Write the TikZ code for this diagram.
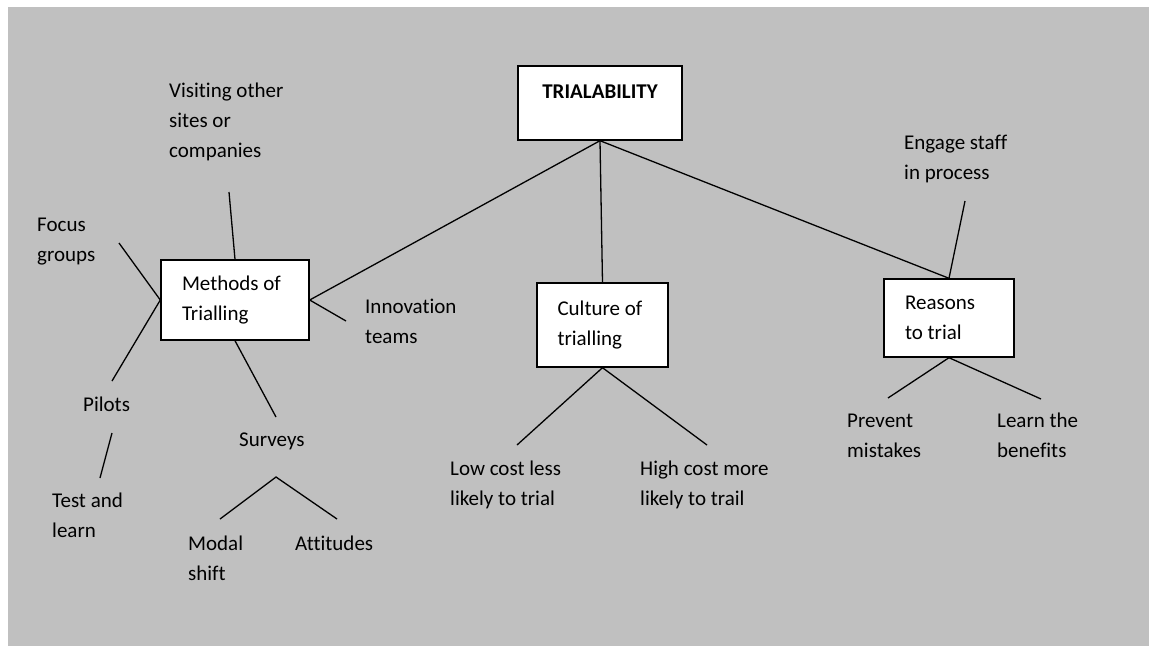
\documentclass[tikz,border=0pt]{standalone}
\usepackage{fontspec}
\setmainfont{Carlito}[RawFeature={-liga;-clig;-calt;-dlig}]
\usepackage{tikz}
\usetikzlibrary{positioning,backgrounds}
\pgfdeclarelayer{background}
\pgfsetlayers{background,main}
\usepackage{xcolor}
\definecolor{sheetgray}{RGB}{192,192,192}
\newcommand{\mapfont}{\fontsize{21}{30}\selectfont}

\begin{document}
\begin{tikzpicture}[x=1pt,y=-1pt,
  every node/.style={font=\mapfont},
  box/.style={draw=black, fill=white, line width=1.4pt,
    align=flush left, inner sep=0pt},
  txt/.style={anchor=base west, align=left, inner sep=0pt},
  conn/.style={line width=1.3pt},
]
\useasboundingbox (0,0) rectangle (1149,646);

\node[box, minimum width=164, minimum height=74, text height=15pt, text depth=25pt,
  font=\mapfont\bfseries] at (600,103) (trial) {TRIALABILITY};

\node[box, minimum width=148, minimum height=80, text width=106] at (235,300)   (methods) {Methods of\\Trialling};
\node[box, minimum width=131, minimum height=84, text width=90]  at (602.5,325) (culture) {Culture of\\trialling};
\node[box, minimum width=130, minimum height=78, text width=88]  at (949,318)   (reasons) {Reasons\\to trial};

% labels sit on the baseline of their last line
\node[txt] at (169,157) (visit)    {Visiting other\\sites or\\companies};
\node[txt] at ( 37,261) (focus)    {Focus\\groups};
\node[txt] at (365,343) (innov)    {Innovation\\teams};
\node[txt] at ( 83,411) (pilots)   {Pilots};
\node[txt] at (239,446) (surveys)  {Surveys};
\node[txt] at ( 52,537) (testlrn)  {Test and\\learn};
\node[txt] at (188,580) (modal)    {Modal\\shift};
\node[txt] at (295,550) (attit)    {Attitudes};
\node[txt] at (450,505) (lowcost)  {Low cost less\\likely to trial};
\node[txt] at (640,505) (highcost) {High cost more\\likely to trail};
\node[txt] at (904,179) (engage)   {Engage staff\\in process};
\node[txt] at (847,457) (prevent)  {Prevent\\mistakes};
\node[txt] at (997,457) (benefit)  {Learn the\\benefits};

% loose line ends next to the labels
\coordinate (visitE)   at (229,192);
\coordinate (focusE)   at (119,243);
\coordinate (pilotsE)  at (112,381);
\coordinate (innovE)   at (346,321);
\coordinate (surveysE) at (276,417);
\coordinate (pilotsB)  at (112,433);
\coordinate (testE)    at (100,478);
\coordinate (survTop)  at (276,477);
\coordinate (modalE)   at (220,519);
\coordinate (attitE)   at (337,519);
\coordinate (lowE)     at (517,445);
\coordinate (highE)    at (707,445);
\coordinate (engageE)  at (965,201);
\coordinate (preventE) at (888,398);
\coordinate (benefitE) at (1041,399);

\begin{pgfonlayer}{background}
\fill[sheetgray] (8,7) rectangle (1149,646);
\draw[conn] (trial.south) -- (methods.east);
\draw[conn] (trial.south) -- (culture.north);
\draw[conn] (trial.south) -- (reasons.north);
\draw[conn] (visitE)   -- (methods.north);
\draw[conn] (focusE)   -- (methods.west);
\draw[conn] (pilotsE)  -- (methods.west);
\draw[conn] (innovE)   -- (methods.east);
\draw[conn] (surveysE) -- (methods.south);
\draw[conn] (pilotsB)  -- (testE);
\draw[conn] (modalE) -- (survTop) -- (attitE);
\draw[conn] (lowE) -- (culture.south) -- (highE);
\draw[conn] (engageE)  -- (reasons.north);
\draw[conn] (preventE) -- (reasons.south) -- (benefitE);
\end{pgfonlayer}
\end{tikzpicture}
\end{document}
